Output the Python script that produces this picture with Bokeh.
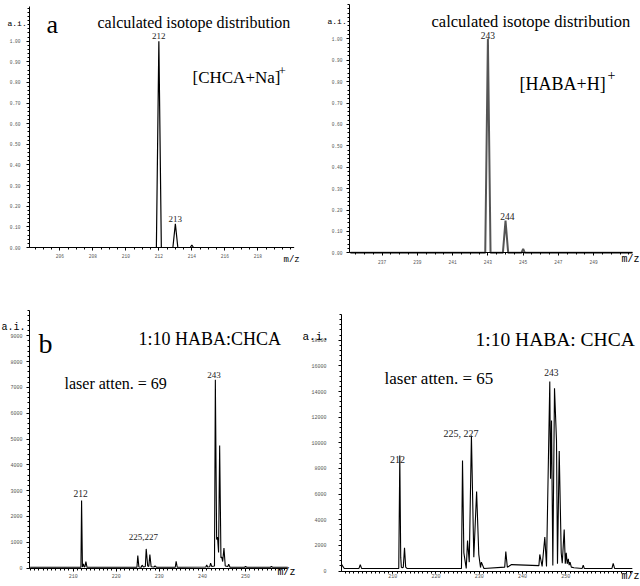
from bokeh.plotting import figure
from bokeh.layouts import gridplot
from bokeh.models import Label, FixedTicker, PrintfTickFormatter, Range1d
from bokeh.embed import file_html
from bokeh.resources import INLINE

# ---------------- data ----------------
# panel a: calculated isotope distribution [CHCA+Na]+
mz_a = [204.2, 211.85, 212.0, 212.15, 212.85, 213.0, 213.15, 213.9, 214.0, 214.1, 220.2]
ai_a = [0.0, 0.0, 1.00, 0.0, 0.0, 0.115, 0.0, 0.0, 0.012, 0.0, 0.0]

# panel a right: calculated isotope distribution [HABA+H]+
mz_b = [235.2, 242.85, 243.0, 243.15, 243.85, 244.0, 244.15, 244.9, 245.0, 245.1, 251.2]
ai_b = [0.0, 0.0, 1.00, 0.0, 0.0, 0.15, 0.0, 0.0, 0.018, 0.0, 0.0]

# panel b left: 1:10 HABA:CHCA, laser atten. = 69
mz_c = [200.0, 211.8, 211.95, 212.15, 212.4, 212.55, 212.75, 212.95, 213.2, 224.8,
        225.0, 225.25, 225.8, 226.0, 226.3, 226.75, 226.95, 227.3, 227.55, 227.8,
        228.1, 228.8, 229.0, 229.3, 233.7, 233.9, 234.15, 240.8, 241.0, 241.2,
        241.7, 241.9, 242.15, 242.8, 243.0, 243.3, 243.5, 243.75, 244.0, 244.3,
        244.5, 244.7, 245.0, 245.3, 245.9, 246.1, 246.4, 249.8, 250.0, 250.3,
        255.8, 256.0, 256.3, 259.8]
ai_c = [30, 30, 2620, 40, 160, 40, 60, 250, 30, 30,
        480, 40, 30, 110, 40, 60, 740, 80, 60, 520,
        50, 40, 80, 30, 30, 260, 30, 40, 120, 40,
        50, 190, 60, 80, 7300, 1100, 1200, 600, 4750, 400,
        420, 250, 770, 80, 60, 150, 30, 30, 60, 30,
        30, 60, 30, 30]

# panel b right: 1:10 HABA: CHCA, laser atten. = 65 (positions as they sit on the printed axis)
mz_d = [198.2, 198.8, 202.2, 202.5, 202.8, 211.4, 211.64, 211.85, 212.0, 212.2,
        212.45, 212.73, 213.0, 213.3, 225.9, 226.14, 226.45, 227.0, 227.3, 227.7,
        228.2, 228.75, 229.4, 229.9, 230.3, 230.5, 231.1, 235.9, 236.15, 236.5,
        237.5, 243.8, 244.01, 244.55, 245.17, 245.56, 246.32, 246.49, 246.72, 247.02,
        247.41, 247.87, 248.1, 248.5, 248.96, 249.2, 249.65, 249.9, 250.12, 250.35,
        250.6, 250.8, 251.0, 251.3, 251.9, 253.8, 254.05, 254.3, 260.7, 260.98,
        261.3, 265.4]
ai_d = [500, 200, 200, 500, 200, 200, 9010, 1080, 300, 250,
        300, 1810, 300, 200, 200, 8620, 1420, 200, 2380, 690,
        10570, 1080, 6200, 1300, 270, 690, 200, 300, 1520, 300,
        500, 420, 1290, 350, 2640, 350, 14780, 7190, 11740, 430,
        14260, 10180, 560, 9350, 1420, 600, 3240, 560, 1420, 560,
        950, 450, 700, 300, 250, 200, 450, 200, 200, 600,
        200, 200]

# tick values
xt_a = [206, 208, 210, 212, 214, 216, 218]
yt_a = [0.0, 0.1, 0.2, 0.3, 0.4, 0.5, 0.6, 0.7, 0.8, 0.9, 1.0]
xt_b = [237, 239, 241, 243, 245, 247, 249]
xt_c = [210, 220, 230, 240, 250]
yt_c = [0, 1000, 2000, 3000, 4000, 5000, 6000, 7000, 8000, 9000]
yt_d = [0, 2000, 4000, 6000, 8000, 10000, 12000, 14000, 16000, 18000]

SERIF = "Liberation Serif"
MONO = "Liberation Mono"


def steps(a, b, s):
    out = []
    v = a
    while v <= b + 1e-9:
        out.append(round(v, 4))
        v += s
    return out


def make_fig(ox, oy, w, h, axis_px, x_at_axis, ppu_x, ppu_y, xbounds, ybounds):
    """Frame fills the whole canvas; axes are pinned with fixed_location."""
    ax_x, ax_y = axis_px
    xs = x_at_axis - (ax_x - ox) / ppu_x
    xe = x_at_axis + (ox + w - ax_x) / ppu_x
    ys = -(oy + h - ax_y) / ppu_y
    ye = (ax_y - oy) / ppu_y
    p = figure(width=w, height=h, x_range=Range1d(xs, xe), y_range=Range1d(ys, ye),
               output_backend="svg", toolbar_location=None,
               min_border_left=0, min_border_right=0,
               min_border_top=0, min_border_bottom=0)
    p.outline_line_color = None
    p.xgrid.visible = False
    p.ygrid.visible = False
    p.background_fill_color = "white"
    p.border_fill_color = "white"
    p.xaxis.fixed_location = 0
    p.yaxis.fixed_location = x_at_axis
    p.xaxis.bounds = xbounds
    p.yaxis.bounds = ybounds
    p._org = (ox, oy, h)
    return p


def style_axes(p, xt, xminor, yt, yminor, yfmt, fsize, xstd, ystd):
    p.xaxis.ticker = FixedTicker(ticks=xt, minor_ticks=xminor)
    p.yaxis.ticker = FixedTicker(ticks=yt, minor_ticks=yminor)
    p.yaxis.formatter = PrintfTickFormatter(format=yfmt)
    p.xaxis.formatter = PrintfTickFormatter(format="%d")
    for ax in (p.xaxis, p.yaxis):
        ax.axis_line_color = "black"
        ax.axis_line_width = 1
        ax.major_tick_line_color = "black"
        ax.minor_tick_line_color = "black"
        ax.major_tick_in = 0
        ax.minor_tick_in = 0
        ax.major_tick_out = 3
        ax.minor_tick_out = 2
        ax.major_label_text_font = MONO
        ax.major_label_text_font_size = fsize
        ax.major_label_text_color = "#555555"
    p.xaxis.major_label_standoff = xstd
    p.yaxis.major_label_standoff = ystd


def lab(p, text, rx, ry, size, font=SERIF, align="left", color="black"):
    """Place a text at a page pixel position (left/right x, baseline y)."""
    ox, oy, h = p._org
    p.add_layout(Label(x=rx - ox, y=oy + h - ry, x_units="screen", y_units="screen",
                       text=text, text_font=font, text_font_size=f"{size}px",
                       text_align=align, text_baseline="alphabetic",
                       text_color=color))


def peak_lab(p, text, x, y, size):
    p.add_layout(Label(x=x, y=y, text=text, text_font=SERIF,
                       text_font_size=f"{size}px", text_align="center",
                       text_baseline="alphabetic", text_color="#222222"))


# ---------------- panel a (left) ----------------
p1 = make_fig(0, 0, 300, 290, (29, 247), 204.16, 16.5, 206.3, (204.16, 220.16), (0, 1.17))
p1.line(mz_a, ai_a, line_color="black", line_width=1.2)
style_axes(p1, xt_a, steps(204.5, 220.0, 0.5), yt_a, steps(0, 1.16, 0.02), "%.2f", "4.5px", 3, 6)
lab(p1, "a", 46, 24, 26)
lab(p1, "calculated isotope distribution", 97, 22, 16)
lab(p1, "[CHCA+Na]", 192, 77, 17)
lab(p1, "+", 278, 70, 13)
lab(p1, "a.i.", 7, 23, 8, font=MONO)
lab(p1, "m/z", 283, 259, 9, font=MONO)
peak_lab(p1, "212", 212.0, 1.023, 9)
peak_lab(p1, "213", 213.0, 0.139, 9)

# ---------------- panel a (right) ----------------
p2 = make_fig(300, 0, 340, 290, (349, 252.3), 235.15, 17.63, 214.0, (235.15, 251.2), (0, 1.16))
p2.line(mz_b, ai_b, line_color="#555555", line_width=2)
style_axes(p2, xt_b, steps(235.5, 251.0, 0.5), yt_a, steps(0, 1.16, 0.02), "%.2f", "4.5px", 4, 4)
lab(p2, "calculated isotope distribution", 431, 21, 16.5)
lab(p2, "[HABA+H]", 519, 83, 18)
lab(p2, "+", 607, 74, 14)
lab(p2, "a.i.", 327, 21, 8, font=MONO)
lab(p2, "m/z", 621, 259, 10, font=MONO)
peak_lab(p2, "243", 243.0, 1.015, 9.5)
peak_lab(p2, "244", 244.1, 0.17, 9.5)

# ---------------- panel b (left) ----------------
p3 = make_fig(0, 290, 300, 296, (29, 567.5), 199.86, 4.308, 0.0258, (199.86, 259.75), (0, 10000))
p3.line(mz_c, ai_c, line_color="black", line_width=1.1)
style_axes(p3, xt_c, steps(200, 259, 1), yt_c, steps(0, 10000, 200), "%d", "5px", 3, 4)
lab(p3, "b", 38, 343, 28)
lab(p3, "1:10 HABA:CHCA", 138, 338, 18)
lab(p3, "laser atten. = 69", 64, 383, 16)
lab(p3, "a.i.", 25, 327, 10, font=MONO, align="right")
lab(p3, "m/z", 277, 572, 10, font=MONO)
peak_lab(p3, "212", 211.7, 2876, 9.5)
peak_lab(p3, "225,227", 226.3, 1194, 9)
peak_lab(p3, "243", 242.7, 7500, 9)

# ---------------- panel b (right) ----------------
p4 = make_fig(300, 290, 340, 296, (341, 570.5), 198.16, 4.325, 0.01282, (198.16, 265.5), (0, 20000))
p4.line(mz_d, ai_d, line_color="black", line_width=1.1)
style_axes(p4, xt_c, steps(199, 265, 1), yt_d, steps(0, 20000, 400), "%d", "5px", 1, 12)
p4.xaxis.major_tick_out = 2
p4.xaxis.minor_tick_out = 2
lab(p4, "1:10 HABA: CHCA", 475, 339, 19.5)
lab(p4, "laser atten. = 65", 384, 378, 17)
lab(p4, "a.i.", 302, 336, 11, font=MONO)
lab(p4, "m/z", 621, 576, 10, font=MONO)
peak_lab(p4, "212", 211.1, 8700, 10)
peak_lab(p4, "225, 227", 225.8, 10700, 10)
peak_lab(p4, "243", 246.7, 15507, 9.5)

grid = gridplot([[p1, p2], [p3, p4]], toolbar_location=None)

with open("out.html", "w") as f:
    f.write(file_html(grid, INLINE))
